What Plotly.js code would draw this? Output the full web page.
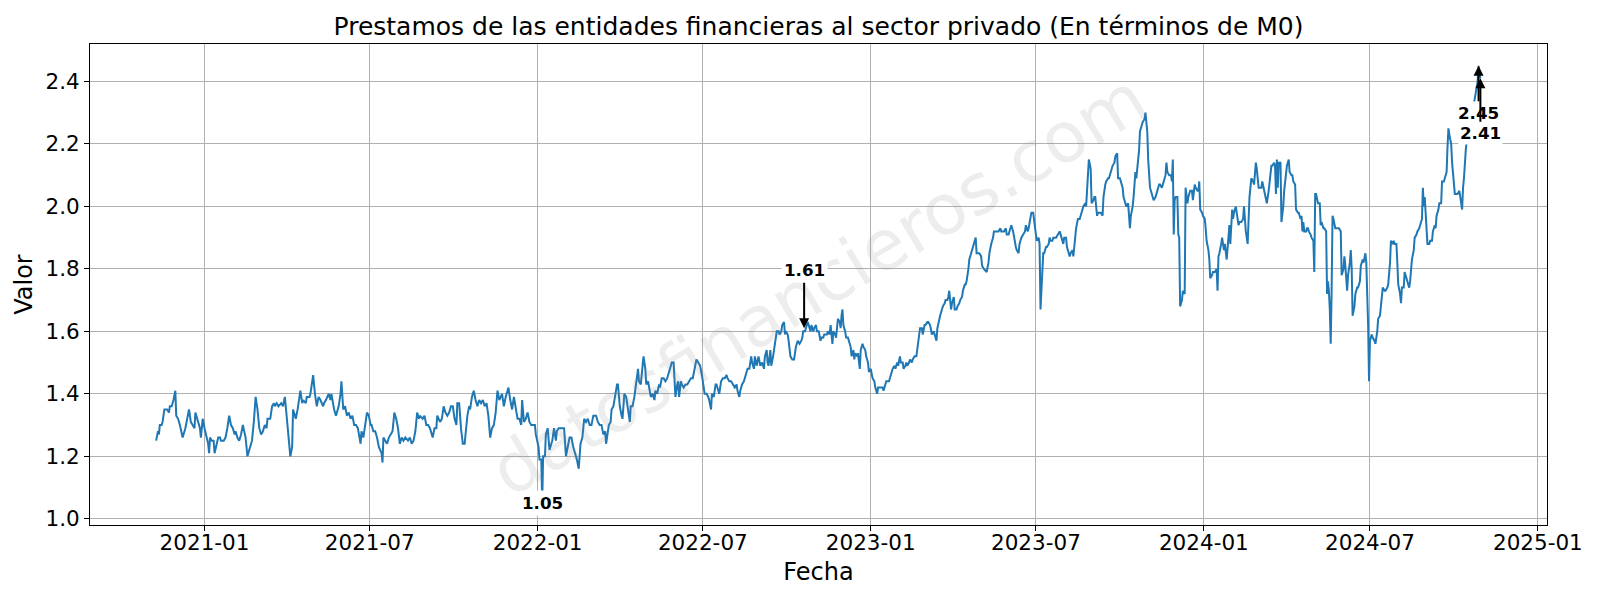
<!DOCTYPE html>
<html>
<head>
<meta charset="utf-8">
<script src="https://cdn.plot.ly/plotly-3.0.1.min.js"></script>
<style>html,body{margin:0;padding:0;background:#fff;}#chart{width:1600px;height:600px;}</style>
</head>
<body>
<div id="chart"></div>
<script>
const titulo = 'Prestamos de las entidades financieras al sector privado (En términos de M0)';
const tituloX = 'Fecha';
const tituloY = 'Valor';
const marcaAgua = 'datosfinancieros.com';

const fechas2020 = ['2020-11-09','2020-11-11','2020-11-12','2020-11-13','2020-11-15','2020-11-16','2020-11-18','2020-11-21','2020-11-23','2020-11-24','2020-11-26','2020-11-28','2020-11-30',
  '2020-12-01','2020-12-03','2020-12-05','2020-12-08','2020-12-11','2020-12-13','2020-12-15','2020-12-17','2020-12-19','2020-12-21','2020-12-22','2020-12-25','2020-12-27','2020-12-28','2020-12-30'];
const valores2020 = [1.25,1.28,1.27,1.30,1.30,1.31,1.35,1.35,1.34,1.36,1.36,1.38,1.41,
  1.33,1.32,1.30,1.26,1.29,1.32,1.35,1.31,1.30,1.29,1.34,1.31,1.29,1.26,1.32];

const fechas2021 = [
  '2021-01-01','2021-01-03','2021-01-05','2021-01-06','2021-01-07','2021-01-09','2021-01-11','2021-01-12','2021-01-14','2021-01-16','2021-01-18','2021-01-19','2021-01-22','2021-01-24','2021-01-26','2021-01-28','2021-01-30',
  '2021-02-01','2021-02-03','2021-02-04','2021-02-06','2021-02-08','2021-02-10','2021-02-12','2021-02-15','2021-02-17','2021-02-19','2021-02-22','2021-02-24','2021-02-26','2021-02-28',
  '2021-03-02','2021-03-04','2021-03-06','2021-03-08','2021-03-10','2021-03-11','2021-03-14','2021-03-16','2021-03-18','2021-03-19','2021-03-21','2021-03-23','2021-03-26','2021-03-28','2021-03-30','2021-03-31',
  '2021-04-03','2021-04-05','2021-04-07','2021-04-08','2021-04-11','2021-04-13','2021-04-16','2021-04-18','2021-04-19','2021-04-22','2021-04-23','2021-04-26','2021-04-27','2021-04-30',
  '2021-05-02','2021-05-04','2021-05-06','2021-05-08','2021-05-11','2021-05-12','2021-05-14','2021-05-17','2021-05-19','2021-05-20','2021-05-23','2021-05-25','2021-05-28','2021-05-30','2021-05-31',
  '2021-06-02','2021-06-04','2021-06-06','2021-06-08','2021-06-10','2021-06-12','2021-06-14','2021-06-16','2021-06-18','2021-06-21','2021-06-22','2021-06-24','2021-06-26','2021-06-28','2021-06-30',
  '2021-07-02','2021-07-03','2021-07-05','2021-07-07','2021-07-09','2021-07-11','2021-07-14','2021-07-15','2021-07-16','2021-07-18','2021-07-20','2021-07-22','2021-07-24','2021-07-26','2021-07-28','2021-07-30',
  '2021-08-01','2021-08-03','2021-08-05','2021-08-07','2021-08-09','2021-08-12','2021-08-14','2021-08-16','2021-08-18','2021-08-20','2021-08-22','2021-08-24','2021-08-25','2021-08-28','2021-08-30',
  '2021-09-01','2021-09-03','2021-09-05','2021-09-08','2021-09-10','2021-09-12','2021-09-13','2021-09-16','2021-09-18','2021-09-20','2021-09-22','2021-09-24','2021-09-26','2021-09-28','2021-09-30',
  '2021-10-02','2021-10-04','2021-10-05','2021-10-07','2021-10-09','2021-10-11','2021-10-13','2021-10-16','2021-10-18','2021-10-19','2021-10-21','2021-10-23','2021-10-25','2021-10-27','2021-10-29','2021-10-31',
  '2021-11-02','2021-11-04','2021-11-06','2021-11-08','2021-11-10','2021-11-12','2021-11-14','2021-11-16','2021-11-18','2021-11-20','2021-11-23','2021-11-25','2021-11-27','2021-11-28','2021-11-30',
  '2021-12-02','2021-12-04','2021-12-06','2021-12-08','2021-12-10','2021-12-12','2021-12-14','2021-12-15','2021-12-17','2021-12-19','2021-12-21','2021-12-23','2021-12-25','2021-12-28','2021-12-29','2021-12-30'];
const valores2021 = [
  1.29,1.26,1.24,1.21,1.26,1.25,1.25,1.21,1.24,1.26,1.26,1.25,1.25,1.26,1.29,1.33,1.30,
  1.29,1.27,1.28,1.26,1.25,1.27,1.30,1.26,1.20,1.22,1.25,1.31,1.39,1.35,
  1.29,1.27,1.28,1.30,1.29,1.32,1.32,1.36,1.37,1.36,1.37,1.36,1.37,1.36,1.39,1.36,
  1.25,1.20,1.23,1.35,1.32,1.35,1.41,1.37,1.38,1.37,1.39,1.39,1.40,1.46,
  1.40,1.36,1.39,1.38,1.36,1.37,1.38,1.40,1.38,1.40,1.35,1.33,1.36,1.40,1.44,
  1.35,1.36,1.33,1.34,1.32,1.33,1.30,1.30,1.29,1.24,1.28,1.26,1.30,1.34,1.33,
  1.30,1.30,1.28,1.28,1.26,1.23,1.21,1.18,1.26,1.25,1.24,1.26,1.27,1.28,1.34,1.32,
  1.29,1.24,1.26,1.25,1.26,1.25,1.26,1.24,1.25,1.28,1.34,1.32,1.33,1.32,1.33,
  1.30,1.30,1.29,1.26,1.29,1.29,1.33,1.31,1.32,1.36,1.34,1.33,1.34,1.36,1.36,
  1.32,1.30,1.37,1.37,1.29,1.24,1.24,1.33,1.36,1.35,1.39,1.41,1.38,1.36,1.38,1.37,
  1.38,1.36,1.37,1.33,1.26,1.29,1.30,1.34,1.41,1.38,1.40,1.36,1.39,1.40,1.42,
  1.38,1.35,1.39,1.35,1.32,1.32,1.30,1.38,1.31,1.32,1.34,1.31,1.30,1.30,1.30,1.27];

const fechas2022 = [
  '2022-01-02','2022-01-03','2022-01-05','2022-01-06','2022-01-07','2022-01-09','2022-01-10','2022-01-12','2022-01-14','2022-01-16','2022-01-17','2022-01-19','2022-01-21','2022-01-22','2022-01-24','2022-01-26','2022-01-28','2022-01-30',
  '2022-02-01','2022-02-03','2022-02-05','2022-02-07','2022-02-08','2022-02-09','2022-02-11','2022-02-13','2022-02-15','2022-02-16','2022-02-17','2022-02-19','2022-02-21','2022-02-23','2022-02-25','2022-02-27',
  '2022-03-01','2022-03-03','2022-03-06','2022-03-08','2022-03-10','2022-03-12','2022-03-14','2022-03-16','2022-03-17','2022-03-19','2022-03-20','2022-03-22','2022-03-23','2022-03-25','2022-03-27','2022-03-29','2022-03-30',
  '2022-04-01','2022-04-03','2022-04-04','2022-04-06','2022-04-08','2022-04-10','2022-04-12','2022-04-13','2022-04-15','2022-04-17','2022-04-19','2022-04-21','2022-04-22','2022-04-24','2022-04-26','2022-04-27','2022-04-29','2022-04-30',
  '2022-05-02','2022-05-04','2022-05-05','2022-05-07','2022-05-09','2022-05-10','2022-05-12','2022-05-14','2022-05-15','2022-05-17','2022-05-19','2022-05-21','2022-05-23','2022-05-24','2022-05-26','2022-05-28','2022-05-30','2022-05-31',
  '2022-06-01','2022-06-03','2022-06-04','2022-06-05','2022-06-07','2022-06-08','2022-06-10','2022-06-12','2022-06-14','2022-06-16','2022-06-18','2022-06-20','2022-06-22','2022-06-24','2022-06-26','2022-06-28','2022-06-30',
  '2022-07-02','2022-07-03','2022-07-05','2022-07-07','2022-07-08','2022-07-10','2022-07-11','2022-07-13','2022-07-15','2022-07-16','2022-07-18','2022-07-19','2022-07-21','2022-07-23','2022-07-25','2022-07-27','2022-07-28','2022-07-30',
  '2022-08-01','2022-08-03','2022-08-05','2022-08-07','2022-08-08','2022-08-10','2022-08-11','2022-08-13','2022-08-15','2022-08-17','2022-08-19','2022-08-21','2022-08-23','2022-08-24','2022-08-26','2022-08-27','2022-08-29','2022-08-31',
  '2022-09-02','2022-09-04','2022-09-06','2022-09-07','2022-09-09','2022-09-10','2022-09-11','2022-09-13','2022-09-14','2022-09-16','2022-09-17','2022-09-19','2022-09-20','2022-09-22','2022-09-23','2022-09-25','2022-09-26','2022-09-28','2022-09-29','2022-09-30',
  '2022-10-02','2022-10-03','2022-10-05','2022-10-07','2022-10-09','2022-10-11','2022-10-13','2022-10-15','2022-10-17','2022-10-18','2022-10-19','2022-10-21','2022-10-22','2022-10-24','2022-10-25','2022-10-27','2022-10-28','2022-10-30','2022-10-31',
  '2022-11-02','2022-11-03','2022-11-05','2022-11-07','2022-11-08','2022-11-10','2022-11-11','2022-11-13','2022-11-14','2022-11-15','2022-11-17','2022-11-18','2022-11-20','2022-11-21','2022-11-23','2022-11-24','2022-11-26','2022-11-28','2022-11-29','2022-11-30',
  '2022-12-01','2022-12-02','2022-12-04','2022-12-05','2022-12-07','2022-12-08','2022-12-10','2022-12-11','2022-12-13','2022-12-14','2022-12-15','2022-12-17','2022-12-18','2022-12-20','2022-12-21','2022-12-23','2022-12-24','2022-12-26','2022-12-27','2022-12-29','2022-12-30'];
const valores2022 = [
  1.23,1.19,1.19,1.05,1.20,1.20,1.27,1.29,1.22,1.24,1.25,1.29,1.25,1.28,1.29,1.29,1.29,1.29,
  1.20,1.23,1.26,1.26,1.24,1.23,1.21,1.19,1.16,1.21,1.24,1.26,1.32,1.31,1.32,1.30,
  1.30,1.33,1.33,1.31,1.30,1.30,1.27,1.28,1.24,1.28,1.30,1.31,1.35,1.36,1.40,1.43,1.43,
  1.36,1.33,1.32,1.40,1.39,1.35,1.31,1.36,1.36,1.39,1.43,1.48,1.44,1.43,1.49,1.52,1.48,1.43,
  1.44,1.41,1.39,1.40,1.38,1.41,1.40,1.43,1.42,1.45,1.45,1.44,1.45,1.46,1.48,1.50,1.50,1.46,
  1.39,1.43,1.44,1.39,1.44,1.43,1.42,1.43,1.43,1.44,1.45,1.45,1.48,1.51,1.50,1.49,1.46,
  1.42,1.40,1.40,1.39,1.38,1.35,1.40,1.39,1.43,1.43,1.41,1.40,1.44,1.45,1.45,1.46,1.45,1.44,
  1.44,1.43,1.42,1.43,1.41,1.39,1.41,1.43,1.44,1.46,1.48,1.48,1.52,1.50,1.48,1.52,1.49,1.52,
  1.49,1.50,1.48,1.52,1.54,1.50,1.49,1.54,1.49,1.52,1.54,1.59,1.60,1.60,1.59,1.60,1.62,1.63,1.59,1.60,
  1.59,1.57,1.52,1.51,1.51,1.55,1.57,1.56,1.57,1.58,1.60,1.60,1.61,1.63,1.62,1.60,1.62,1.60,1.61,
  1.62,1.60,1.60,1.57,1.58,1.58,1.59,1.59,1.59,1.60,1.59,1.62,1.56,1.60,1.59,1.58,1.64,1.63,1.61,1.65,
  1.67,1.62,1.60,1.58,1.58,1.57,1.55,1.52,1.54,1.51,1.53,1.52,1.53,1.48,1.54,1.56,1.55,1.54,1.52,1.50,1.47];

const fechas2023 = [
  '2023-01-01','2023-01-02','2023-01-03','2023-01-05','2023-01-06','2023-01-08','2023-01-09','2023-01-11','2023-01-12','2023-01-14','2023-01-15','2023-01-17','2023-01-18','2023-01-20','2023-01-21','2023-01-22','2023-01-24','2023-01-25','2023-01-27','2023-01-28','2023-01-30','2023-01-31',
  '2023-02-02','2023-02-03','2023-02-05','2023-02-06','2023-02-08','2023-02-09','2023-02-10','2023-02-12','2023-02-13','2023-02-15','2023-02-16','2023-02-18','2023-02-20','2023-02-21','2023-02-23','2023-02-24','2023-02-26','2023-02-27',
  '2023-03-01','2023-03-02','2023-03-04','2023-03-05','2023-03-07','2023-03-08','2023-03-09','2023-03-11','2023-03-12','2023-03-14','2023-03-15','2023-03-17','2023-03-18','2023-03-20','2023-03-21','2023-03-23','2023-03-24','2023-03-26','2023-03-27','2023-03-28','2023-03-30','2023-03-31',
  '2023-04-02','2023-04-03','2023-04-05','2023-04-06','2023-04-08','2023-04-09','2023-04-11','2023-04-12','2023-04-14','2023-04-15','2023-04-16','2023-04-18','2023-04-19','2023-04-21','2023-04-24','2023-04-26','2023-04-27','2023-04-30',
  '2023-05-02','2023-05-03','2023-05-05','2023-05-08','2023-05-10','2023-05-11','2023-05-13','2023-05-15','2023-05-16','2023-05-19','2023-05-21','2023-05-23','2023-05-24','2023-05-26','2023-05-27','2023-05-29','2023-05-30',
  '2023-06-01','2023-06-03','2023-06-04','2023-06-06','2023-06-07','2023-06-09','2023-06-10','2023-06-12','2023-06-13','2023-06-15','2023-06-17','2023-06-19','2023-06-20','2023-06-22','2023-06-23','2023-06-25','2023-06-26','2023-06-28','2023-06-29',
  '2023-07-01','2023-07-02','2023-07-04','2023-07-05','2023-07-06','2023-07-07','2023-07-09','2023-07-10','2023-07-12','2023-07-13','2023-07-15','2023-07-16','2023-07-17','2023-07-19','2023-07-20','2023-07-23','2023-07-25','2023-07-27','2023-07-29','2023-07-31',
  '2023-08-01','2023-08-03','2023-08-04','2023-08-05','2023-08-07','2023-08-08','2023-08-10','2023-08-11','2023-08-13','2023-08-14','2023-08-16','2023-08-18','2023-08-19','2023-08-21','2023-08-22','2023-08-24','2023-08-25','2023-08-27','2023-08-28','2023-08-30','2023-08-31',
  '2023-09-02','2023-09-03','2023-09-04','2023-09-06','2023-09-07','2023-09-09','2023-09-10','2023-09-12','2023-09-13','2023-09-15','2023-09-16','2023-09-18','2023-09-19','2023-09-21','2023-09-22','2023-09-23','2023-09-25','2023-09-26','2023-09-28','2023-09-29',
  '2023-10-01','2023-10-02','2023-10-04','2023-10-05','2023-10-07','2023-10-08','2023-10-10','2023-10-11','2023-10-12','2023-10-13','2023-10-15','2023-10-16','2023-10-18','2023-10-19','2023-10-21','2023-10-22','2023-10-23','2023-10-25','2023-10-26','2023-10-28','2023-10-29','2023-10-31',
  '2023-11-01','2023-11-03','2023-11-05','2023-11-07','2023-11-09','2023-11-11','2023-11-13','2023-11-14','2023-11-16','2023-11-18','2023-11-20','2023-11-21','2023-11-22','2023-11-24','2023-11-26','2023-11-27','2023-11-28','2023-11-29','2023-11-30',
  '2023-12-01','2023-12-03','2023-12-04','2023-12-05','2023-12-06','2023-12-08','2023-12-09','2023-12-11','2023-12-12','2023-12-14','2023-12-15','2023-12-17','2023-12-18','2023-12-19','2023-12-20','2023-12-22','2023-12-23','2023-12-25','2023-12-26','2023-12-27','2023-12-28','2023-12-30','2023-12-31'];
const valores2023 = [
  1.48,1.46,1.45,1.44,1.42,1.40,1.42,1.42,1.42,1.42,1.41,1.43,1.44,1.44,1.44,1.45,1.47,1.48,1.49,1.48,1.50,1.49,
  1.52,1.50,1.50,1.48,1.49,1.50,1.49,1.50,1.51,1.50,1.51,1.52,1.52,1.54,1.59,1.61,1.61,1.59,
  1.62,1.62,1.63,1.63,1.62,1.60,1.59,1.60,1.59,1.57,1.61,1.64,1.65,1.67,1.68,1.69,1.70,1.70,1.71,1.73,1.67,1.69,
  1.71,1.67,1.67,1.68,1.69,1.70,1.71,1.73,1.75,1.75,1.76,1.80,1.83,1.85,1.88,1.90,1.85,1.85,
  1.84,1.81,1.80,1.79,1.82,1.85,1.88,1.90,1.92,1.92,1.92,1.93,1.92,1.92,1.92,1.93,1.91,
  1.91,1.93,1.94,1.92,1.90,1.87,1.86,1.85,1.88,1.90,1.91,1.92,1.94,1.92,1.93,1.96,1.98,1.98,1.95,
  1.91,1.89,1.90,1.88,1.67,1.73,1.85,1.85,1.87,1.87,1.88,1.90,1.89,1.89,1.90,1.90,1.91,1.92,1.90,1.88,
  1.90,1.90,1.87,1.86,1.84,1.85,1.86,1.84,1.92,1.93,1.96,1.96,1.97,1.99,2.00,2.01,2.00,2.10,2.15,2.12,2.01,
  2.02,2.03,2.03,1.97,1.98,1.98,1.98,1.97,2.03,2.07,2.08,2.09,2.09,2.11,2.12,2.13,2.14,2.16,2.17,2.09,
  2.09,2.08,2.06,2.03,2.01,2.00,2.01,1.96,1.93,1.97,2.00,2.03,2.11,2.09,2.14,2.18,2.24,2.26,2.27,2.28,2.30,2.24,
  2.15,2.06,2.04,2.02,2.03,2.05,2.07,2.07,2.06,2.08,2.10,2.14,2.11,2.10,2.10,2.08,2.15,1.91,2.02,
  2.03,2.03,1.91,1.90,1.68,1.70,1.73,1.72,2.06,2.01,2.03,2.05,2.05,2.05,2.02,2.07,2.06,2.05,2.05,2.08,1.99,1.98,1.97];

const fechas2024 = [
  '2024-01-02','2024-01-03','2024-01-04','2024-01-06','2024-01-07','2024-01-08','2024-01-10','2024-01-11','2024-01-13','2024-01-15','2024-01-16','2024-01-17','2024-01-18','2024-01-20','2024-01-21','2024-01-23','2024-01-24','2024-01-26','2024-01-27','2024-01-29','2024-01-30',
  '2024-02-01','2024-02-02','2024-02-03','2024-02-05','2024-02-06','2024-02-08','2024-02-09','2024-02-11','2024-02-13','2024-02-14','2024-02-16','2024-02-18','2024-02-20','2024-02-21','2024-02-22','2024-02-24','2024-02-25','2024-02-27','2024-02-28',
  '2024-03-01','2024-03-02','2024-03-04','2024-03-05','2024-03-07','2024-03-08','2024-03-10','2024-03-12','2024-03-13','2024-03-15','2024-03-16','2024-03-18','2024-03-19','2024-03-20','2024-03-21','2024-03-22','2024-03-23','2024-03-25','2024-03-26','2024-03-28','2024-03-29','2024-03-31',
  '2024-04-01','2024-04-03','2024-04-04','2024-04-06','2024-04-07','2024-04-08','2024-04-10','2024-04-11','2024-04-13','2024-04-14','2024-04-16','2024-04-17','2024-04-18','2024-04-19','2024-04-20','2024-04-22','2024-04-23','2024-04-24','2024-04-25','2024-04-27','2024-04-28','2024-04-30',
  '2024-05-01','2024-05-02','2024-05-03','2024-05-05','2024-05-07','2024-05-08','2024-05-09','2024-05-11','2024-05-12','2024-05-14','2024-05-15','2024-05-16','2024-05-17','2024-05-18','2024-05-19','2024-05-20','2024-05-21','2024-05-22','2024-05-24','2024-05-25','2024-05-27','2024-05-28','2024-05-30','2024-05-31',
  '2024-06-02','2024-06-03','2024-06-04','2024-06-06','2024-06-07','2024-06-09','2024-06-10','2024-06-11','2024-06-12','2024-06-14','2024-06-15','2024-06-17','2024-06-18','2024-06-20','2024-06-21','2024-06-23','2024-06-24','2024-06-26','2024-06-27','2024-06-28','2024-06-29','2024-06-30',
  '2024-07-01','2024-07-03','2024-07-04','2024-07-06','2024-07-07','2024-07-09','2024-07-10','2024-07-12','2024-07-13','2024-07-14','2024-07-15','2024-07-17','2024-07-18','2024-07-20','2024-07-21','2024-07-23','2024-07-24','2024-07-26','2024-07-27','2024-07-28','2024-07-30','2024-07-31',
  '2024-08-01','2024-08-03','2024-08-04','2024-08-05','2024-08-07','2024-08-08','2024-08-10','2024-08-11','2024-08-13','2024-08-14','2024-08-15','2024-08-16','2024-08-18','2024-08-19','2024-08-21','2024-08-22','2024-08-24','2024-08-25','2024-08-27','2024-08-28','2024-08-29','2024-08-30','2024-08-31',
  '2024-09-01','2024-09-02','2024-09-04','2024-09-05','2024-09-07','2024-09-08','2024-09-10','2024-09-11','2024-09-12','2024-09-14','2024-09-15','2024-09-17','2024-09-18','2024-09-20','2024-09-21','2024-09-23','2024-09-24','2024-09-25','2024-09-26','2024-09-28','2024-09-29',
  '2024-10-01','2024-10-02','2024-10-04','2024-10-05','2024-10-07','2024-10-08','2024-10-10','2024-10-11','2024-10-12','2024-10-14','2024-10-15','2024-10-16','2024-10-19','2024-10-23','2024-10-24','2024-10-26','2024-10-27','2024-10-28','2024-10-30'];
const valores2024 = [
  1.96,1.93,1.89,1.86,1.83,1.77,1.78,1.79,1.79,1.80,1.73,1.84,1.85,1.88,1.90,1.86,1.88,1.83,1.88,1.94,1.88,
  1.99,1.96,1.98,2.00,1.98,1.94,1.95,1.95,1.96,2.00,1.92,1.88,2.03,2.07,2.09,2.08,2.07,2.14,2.12,
  2.06,2.06,2.06,2.08,2.05,2.03,2.01,2.05,2.08,2.13,2.13,2.14,2.13,2.04,2.15,2.06,2.14,2.14,1.95,2.00,2.05,2.11,
  2.13,2.15,2.11,2.10,2.10,2.08,2.07,1.99,1.98,1.98,1.96,1.97,1.92,1.95,1.92,1.92,1.93,1.93,1.92,1.91,1.90,1.89,
  1.79,2.04,2.04,2.01,2.01,1.94,1.95,1.93,1.93,1.92,1.72,1.76,1.73,1.67,1.56,1.73,1.97,1.96,1.93,1.93,1.93,1.93,1.92,1.78,
  1.80,1.84,1.81,1.73,1.78,1.82,1.86,1.80,1.65,1.68,1.72,1.74,1.74,1.76,1.81,1.83,1.82,1.85,1.82,1.73,1.62,1.44,
  1.57,1.59,1.58,1.57,1.56,1.60,1.64,1.65,1.68,1.71,1.74,1.73,1.73,1.74,1.75,1.82,1.89,1.88,1.89,1.88,1.88,1.82,
  1.75,1.72,1.69,1.74,1.74,1.79,1.77,1.76,1.74,1.76,1.81,1.83,1.86,1.90,1.91,1.92,1.93,1.94,1.96,2.06,2.00,2.03,1.99,
  1.92,1.88,1.88,1.89,1.89,1.92,1.94,1.93,1.97,1.99,2.01,2.01,2.08,2.08,2.09,2.11,2.19,2.25,2.23,2.20,2.14,
  2.05,2.04,2.04,2.04,2.05,2.03,1.99,2.06,2.09,2.18,2.21,2.27,2.30,2.33,2.35,2.38,2.40,2.45,2.41];

// punto señalado a mitad de la serie
const fechaSenalada = '2022-10-20';
const valorSenalado = 1.61;

const fechas = [].concat(fechas2020, fechas2021, fechas2022, fechas2023, fechas2024);
const valores = [].concat(valores2020, valores2021, valores2022, valores2023, valores2024);

let iMin = 0, iMax = 0;
valores.forEach((v, i) => { if (v < valores[iMin]) iMin = i; if (v > valores[iMax]) iMax = i; });
const iUlt = valores.length - 1;

const lbl = {size: 16.7, color: 'black', family: 'DejaVu Sans'};
const annotations = [
  {xref: 'paper', yref: 'paper', x: 0.5, y: 0.5, text: marcaAgua, showarrow: false, textangle: -31,
   font: {size: 70, color: 'rgba(128,128,128,0.14)', family: 'DejaVu Sans'}},
  {x: fechaSenalada, y: valorSenalado, text: '<b>' + valorSenalado.toFixed(2) + '</b>', showarrow: true,
   ax: 0, ay: -58, arrowhead: 2, arrowsize: 1, arrowwidth: 2, arrowcolor: 'black', bgcolor: 'white', borderpad: 2, font: lbl},
  {x: fechas[iMin], y: valores[iMin], text: '<b>' + valores[iMin].toFixed(2) + '</b>', showarrow: false,
   bgcolor: 'white', borderpad: 2, font: lbl},
  {x: fechas[iMax], y: valores[iMax], text: '<b>' + valores[iMax].toFixed(2) + '</b>', showarrow: true,
   ax: 0, ay: 47, arrowhead: 2, arrowsize: 1, arrowwidth: 2, arrowcolor: 'black', bgcolor: 'white', borderpad: 1, font: lbl},
  {x: fechas[iUlt], y: valores[iUlt], text: '<b>' + valores[iUlt].toFixed(2) + '</b>', showarrow: true,
   ax: 0, ay: 55, arrowhead: 2, arrowsize: 1, arrowwidth: 2, arrowcolor: 'black', bgcolor: 'white', borderpad: 1, font: lbl}
];

const trace = {
  x: fechas, y: valores, type: 'scatter', mode: 'lines',
  line: {color: '#1f77b4', width: 2}, hoverinfo: 'skip'
};

const ejeComun = {
  showgrid: true, gridcolor: '#b0b0b0', gridwidth: 1, zeroline: false,
  ticks: 'outside', ticklen: 5, tickwidth: 1, tickcolor: 'black',
  showline: true, linecolor: 'black', linewidth: 1, mirror: true,
  tickfont: {size: 21.5, color: 'black', family: 'DejaVu Sans'}
};

const layout = {
  width: 1600, height: 600,
  paper_bgcolor: 'white', plot_bgcolor: 'white',
  margin: {l: 90, r: 53, t: 44, b: 75, autoexpand: false},
  font: {family: 'DejaVu Sans', color: 'black'},
  showlegend: false,
  title: {text: titulo, font: {size: 25, color: 'black'}, x: 0.5, xref: 'paper', xanchor: 'center',
          y: 1 - 26.5 / 600, yref: 'container', yanchor: 'middle'},
  xaxis: Object.assign({}, ejeComun, {
    type: 'date', range: ['2020-08-28 12:00', '2025-01-11'],
    tick0: '2021-01-01', dtick: 'M6', tickformat: '%Y-%m', ticklabelstandoff: -7,
    title: {text: tituloX, font: {size: 24, color: 'black'}, standoff: 9}
  }),
  yaxis: Object.assign({}, ejeComun, {
    range: [0.98, 2.52], tick0: 1.0, dtick: 0.2, tickformat: '.1f',
    title: {text: tituloY, font: {size: 24, color: 'black'}, standoff: 6}
  }),
  annotations: annotations
};

Plotly.newPlot('chart', [trace], layout, {staticPlot: true, displayModeBar: false});
</script>
</body>
</html>
